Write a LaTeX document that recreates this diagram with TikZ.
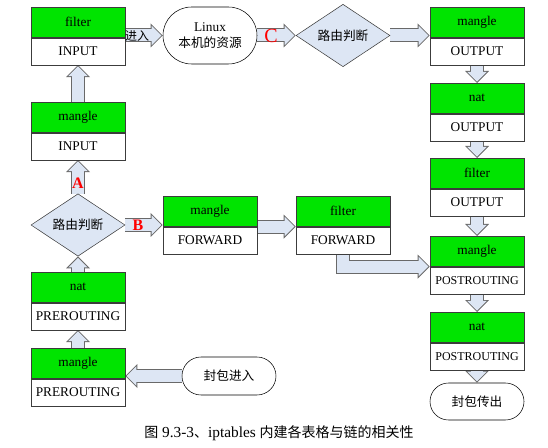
\documentclass[tikz,border=0pt]{standalone}
\usepackage{fontspec}
\setmainfont{Liberation Serif}
\newfontfamily\cjk{Noto Sans CJK SC}
\usetikzlibrary{positioning}
\usetikzlibrary{shapes.geometric,shapes.misc}
\usetikzlibrary{arrows.meta}
\usetikzlibrary{backgrounds}
\definecolor{tblgreen}{RGB}{0,228,0}
\definecolor{arrfill}{RGB}{221,230,244}
\definecolor{arrline}{RGB}{105,105,105}
\definecolor{boxline}{RGB}{60,60,60}
\tikzset{
 tbl/.style={draw=boxline,fill=tblgreen,minimum width=70.5pt,minimum height=22.5pt,inner sep=0pt,anchor=north},
 chn/.style={draw=boxline,fill=white,minimum width=70.5pt,minimum height=20.25pt,inner sep=0pt},
 route/.style={diamond,draw=boxline,fill=arrfill,minimum width=70.5pt,minimum height=42pt,inner sep=0pt,
  font=\cjk\fontsize{9.5}{10}\selectfont},
 term/.style={rounded rectangle,draw=black,fill=white,minimum width=70.5pt,inner sep=0pt,align=center},
 barrow/.style={draw=arrline,line width=10.5pt,line join=miter,-{Triangle[length=9pt,width=18pt,line width=0pt]},
  postaction={draw=arrfill,line width=9pt,shorten >=1.06pt,-{Triangle[length=7.2pt,width=14.4pt,line width=0pt]}},
  postaction={draw=arrfill,line width=9pt,shorten >=6pt,-}},
 abc/.style={text=red,font=\bfseries\fontsize{12}{12}\selectfont,inner sep=0pt}
}
\begin{document}
\begin{tikzpicture}[x=0.75pt,y=-0.75pt]
\useasboundingbox (0,0) rectangle (548,448);
\foreach \nm/\x/\y/\tb/\ch in {fin/78/7/filter/INPUT,min/78/102/mangle/INPUT,
 npre/78/272/nat/PREROUTING,mpre/78/348/mangle/PREROUTING,
 mfwd/210/196/mangle/FORWARD,ffwd/343/196/filter/FORWARD,
 mout/477/7/mangle/OUTPUT,nout/477/83/nat/OUTPUT,fout/477/158/filter/OUTPUT,
 mpost/477/236/mangle/{\fontsize{9}{10}\selectfont POSTROUTING},npost/477/312/nat/{\fontsize{9}{10}\selectfont POSTROUTING}}
{\node[tbl] (\nm) at (\x,\y) {\tb};
\node[chn,below=0pt of \nm] (\nm-c) {\ch};}
\node[route] (rt1) at (78,225) {路由判断};
\node[route] (rt2) at (343,35.5) {路由判断};
\node[term,minimum height=42.75pt] (linux) at (210,35.5) {Linux\\{\cjk\fontsize{9.5}{10}\selectfont 本机的资源}};
\node[term,minimum height=28.5pt,font=\cjk\fontsize{9.5}{10}\selectfont] (pin) at (229,376) {封包进入};
\node[term,minimum height=27.75pt,font=\cjk\fontsize{9.5}{10}\selectfont] (pout) at (477,401.5) {封包传出};
\begin{scope}[on background layer]
\draw[barrow] (linux.west -| fin.east) -- (linux.west);
\draw[barrow] (linux.east) -- (rt2.west);
\draw[barrow] (rt2.east) -- (rt2.east -| mout.west);
\foreach \a/\b in {mout/nout,nout/fout,fout/mpost,mpost/npost}
{\draw[barrow] (\a-c.south) -- (\b.north);}
\draw[barrow] (npost-c.south) -- (pout.north);
\draw[barrow] (pin.west) -- (pin.west -| mpre.east);
\draw[barrow] (mpre.north) -- (npre-c.south);
\draw[barrow] (npre.north) -- (rt1.south);
\draw[barrow] (rt1.north) -- (min-c.south);
\draw[barrow] (min.north) -- (fin-c.south);
\draw[barrow] (rt1.east) -- (rt1.east -| mfwd.west);
\draw[barrow] (mfwd-c.north east) -- (ffwd-c.north west);
\draw[barrow] (ffwd-c.south) |- (mpost-c.north west);
\end{scope}
\node[font=\cjk\fontsize{9}{10}\selectfont,inner sep=0pt] (enter) at (137,36) {进入};
\node[abc] (la) at (78,183) {A};
\node[abc] (lb) at (138,225) {B};
\node[abc,font=\fontsize{15}{15}\selectfont] (lc) at (271,35.5) {C};
\node[font=\fontsize{11.5}{12}\selectfont] (cap) at (279,433) {{\cjk\fontsize{10.5}{12}\selectfont 图} 9.3-3{\cjk\fontsize{10.5}{12}\selectfont 、}iptables {\cjk\fontsize{10.5}{12}\selectfont 内建各表格与链的相关性}};
\end{tikzpicture}
\end{document}
